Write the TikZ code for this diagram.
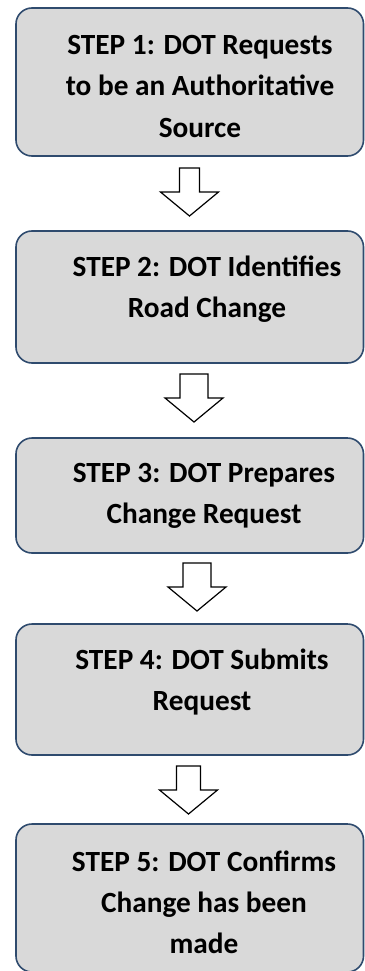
\documentclass[tikz,border=0pt]{standalone}
\usepackage{fontspec}
\setmainfont{Carlito}
\definecolor{boxfill}{HTML}{D9D9D9}
\definecolor{boxline}{HTML}{2F4B6E}
\tikzset{
  stepbox/.style={draw=boxline, fill=boxfill, line width=1.6pt, rounded corners=16pt,
                  minimum width=347.5pt, inner sep=0pt},
  steptext/.style={align=center, inner sep=0pt, anchor=base,
                   font=\fontsize{29.3}{41}\selectfont\bfseries},
  arrowline/.style={draw=black, fill=white, line width=1.2pt, line join=miter}
}
% hollow block arrow pointing down; #1 = top centre of the shaft, #2 = half shaft width
\newcommand\stepArrow[2]{%
  \draw[arrowline] ([xshift=-#2]#1) -- ([xshift=#2]#1)
    -- ([xshift=#2,yshift=-24pt]#1) -- ([xshift=29pt,yshift=-24pt]#1)
    -- ([yshift=-48pt]#1)
    -- ([xshift=-29pt,yshift=-24pt]#1) -- ([xshift=-#2,yshift=-24pt]#1) -- cycle;}
\begin{document}
\begin{tikzpicture}[x=1pt,y=-1pt]
  \useasboundingbox (0,0) rectangle (364,971);

  % step boxes
  \node[stepbox, minimum height=148pt] (b1) at (189.75,82) {};
  \node[stepbox, minimum height=132pt] (b2) at (189.75,297) {};
  \node[stepbox, minimum height=115pt] (b3) at (189.75,495.5) {};
  \node[stepbox, minimum height=131pt] (b4) at (189.75,689.5) {};
  \node[stepbox, minimum height=148pt] (b5) at (189.75,898) {};

  % step labels (anchored on the baseline of their last line)
  \node[steptext] (t1) at (200,137) {STEP 1: DOT Requests\\to be an Authoritative\\Source};
  \node[steptext] (t2) at (207,317) {STEP 2: DOT Identifies\\Road Change};
  \node[steptext] (t3) at (204,523) {STEP 3: DOT Prepares\\Change Request};
  \node[steptext] (t4) at (202,710) {STEP 4: DOT Submits\\Request};
  \node[steptext] (t5) at (204,953) {STEP 5: DOT Confirms\\Change has been\\made};

  % arrows between the steps
  \coordinate (a1) at (189.5,168);
  \coordinate (a2) at (194,374);
  \coordinate (a3) at (197,563);
  \coordinate (a4) at (188.5,766);
  \stepArrow{a1}{10pt}
  \stepArrow{a2}{14pt}
  \stepArrow{a3}{14pt}
  \stepArrow{a4}{12pt}
\end{tikzpicture}
\end{document}
